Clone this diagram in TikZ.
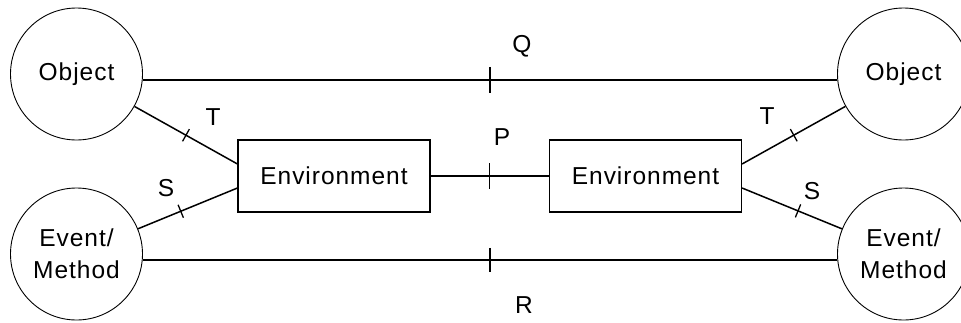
\documentclass[tikz,border=0pt]{standalone}
\usepackage{fontspec}
\setmainfont{Liberation Sans}[LetterSpace=4]
\usetikzlibrary{calc}
\begin{document}
\begin{tikzpicture}[x=1pt,y=-1pt,
  every node/.style={font=\fontsize{24.5}{32}\selectfont},
  ent/.style={circle,draw,line width=0.9pt,minimum size=132pt,inner sep=0pt,align=center},
  envbox/.style={rectangle,draw,line width=1.1pt,minimum width=192pt,minimum height=72pt,inner sep=0pt},
  conn/.style={line width=1.5pt},
  tk/.style={line width=1.3pt},
  lbl/.style={inner sep=0pt}]
\useasboundingbox (0,0) rectangle (961,322);
\node[ent] (objL) at (76.5,74) {Object};
\node[ent] (evL) at (76.5,254) {Event/\\Method};
\node[ent] (objR) at (903.5,74) {Object};
\node[ent] (evR) at (903.5,254) {Event/\\Method};
\node[envbox] (envL) at (334,176) {Environment};
\node[envbox] (envR) at (645.5,176) {Environment};
% Q
\draw[conn] (objL.-5.2) -- coordinate[pos=.5] (mQ) (objR.185.2);
\draw[tk] ([yshift=13pt]mQ) -- ([yshift=-13pt]mQ);
% R
\draw[conn] (evL.-5.2) -- coordinate[pos=.5] (mR) (evR.185.2);
\draw[tk] ([yshift=12pt]mR) -- ([yshift=-12pt]mR);
% P
\draw[conn] (envL.east) -- coordinate[pos=.5] (mP) (envR.west);
\draw[tk] ([yshift=13pt]mP) -- ([yshift=-13pt]mP);
% left T, S
\coordinate (tL) at ([yshift=12pt]envL.west);
\coordinate (sL) at ([yshift=-12pt]envL.west);
\coordinate (tR) at ([yshift=12pt]envR.east);
\coordinate (sR) at ([yshift=-12pt]envR.east);
\draw[conn] (tL) -- coordinate[pos=.5] (mTL) (objL);
\draw[conn] (sL) -- coordinate[pos=.57] (mSL) (evL);
\draw[conn] (tR) -- coordinate[pos=.5] (mTR) (objR);
\draw[conn] (sR) -- coordinate[pos=.56] (mSR) (evR);
\draw[tk] ($(mTL)!7pt!90:(tL)$) -- ($(mTL)!7pt!-90:(tL)$);
\draw[tk] ($(mSL)!7pt!90:(sL)$) -- ($(mSL)!7pt!-90:(sL)$);
\draw[tk] ($(mTR)!7pt!90:(tR)$) -- ($(mTR)!7pt!-90:(tR)$);
\draw[tk] ($(mSR)!7pt!90:(sR)$) -- ($(mSR)!7pt!-90:(sR)$);
% labels
\node[lbl] (lQ) at (522,46) {Q};
\node[lbl] (lP) at (502,137) {P};
\node[lbl] (lR) at (524,305) {R};
\node[lbl] (lTL) at (213,117) {T};
\node[lbl] (lSL) at (166,188) {S};
\node[lbl] (lTR) at (767,116) {T};
\node[lbl] (lSR) at (812,191) {S};
\end{tikzpicture}
\end{document}
